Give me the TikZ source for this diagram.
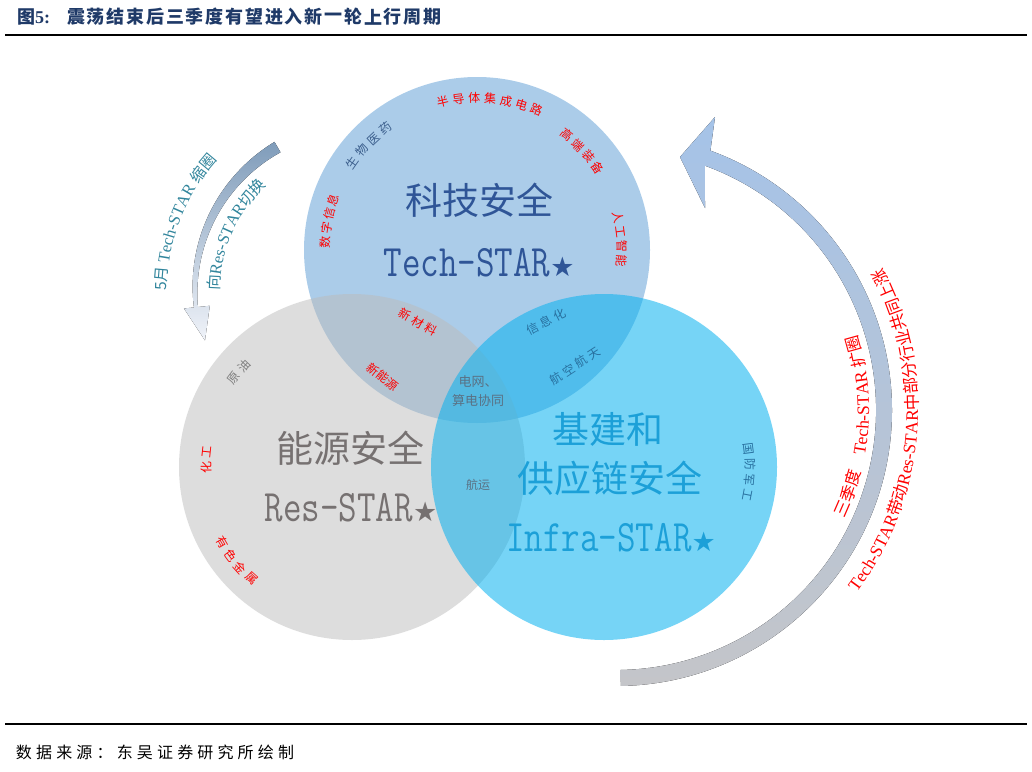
\documentclass[tikz,border=0pt]{standalone}
\usepackage{fontspec}
\usepackage{graphicx}
\usetikzlibrary{calc,decorations.text}
\newfontfamily\cjk{Noto Sans CJK SC}
\newfontfamily\cjkls{Noto Sans CJK SC}[LetterSpace=28]
\newfontfamily\cjksrc{Noto Sans CJK SC}[LetterSpace=26]
\newfontfamily\starf{DejaVu Sans}
\newfontfamily\serf{Liberation Serif}
\definecolor{titleblue}{HTML}{1F3A68}
\definecolor{techblue}{HTML}{2F5597}
\definecolor{resgray}{HTML}{767171}
\definecolor{infrablue}{HTML}{1CA0D8}
\definecolor{bluegray}{HTML}{3B5E8C}
\definecolor{darkteal}{HTML}{28709F}
\definecolor{gridgray}{HTML}{5A7184}
\definecolor{oilgray}{HTML}{7F7F7F}
\definecolor{arrowteal}{HTML}{31859C}
\definecolor{ctop}{HTML}{ABCCE9}
\definecolor{cleft}{HTML}{BBBBBB}
\definecolor{cright}{HTML}{06B1EF}
\definecolor{larrowtop}{HTML}{7F9CBA}
\definecolor{larrowbot}{HTML}{F0F3F9}
\definecolor{rtop}{HTML}{A5C3E8}
\definecolor{rmid}{HTML}{F2F4F8}
\definecolor{rbot}{HTML}{C4C5C9}
\newcommand\cjkA{\cjk\fontsize{15.5}{15.5}\selectfont}
\newcommand\serA{\serf\fontsize{16.5}{16.5}\selectfont}
\newcommand\cjkB{\cjk\fontsize{16.5}{16.5}\selectfont}
\newcommand\serB{\serf\fontsize{17.5}{17.5}\selectfont}
\newcommand\arclabel[7]{%
  \foreach \ch [count=\i from 0] in {#7}{%
    \pgfmathsetmacro\ang{#3+\i*(#4)}%
    \pgfmathsetmacro\rot{\ang+(#5)}%
    \node[#6, rotate=\rot] at ($(#1)+(\ang:#2)$) {\ch};}}
\tikzset{
  every node/.style={inner sep=0pt, outer sep=0pt},
  bigcjk/.style={font=\cjk\fontsize{37}{37}\selectfont},
  startxt/.style={font=\fontsize{36}{36}\selectfont},
  lbl/.style={font=\cjk\fontsize{12}{12}\selectfont},
  lbls/.style={font=\cjkls\fontsize{12}{12}\selectfont},
  titlech/.style={text=titleblue, font=\cjk\bfseries\fontsize{18}{18}\selectfont},
  rulestyle/.style={line width=2pt, black}
}
\begin{document}
\begin{tikzpicture}[x=1pt, y=1pt]
\path[use as bounding box] (0,0) rectangle (1032,-771);
% title and rules
\node[anchor=west, titlech] (fig) at (17,-17) {图\serf\bfseries 5:};
\foreach \c [count=\i from 0] in {震,荡,结,束,后,三,季,度,有,望,进,入,新,一,轮,上,行,周,期}{%
  \node[titlech] (title\i) at ({76+\i*19.8},-17) {\c};}
\coordinate (r1a) at (5,-34.5); \coordinate (r1b) at (1027,-34.5);
\coordinate (r2a) at (5,-723.5); \coordinate (r2b) at (1027,-723.5);
\draw[rulestyle] (r1a) -- (r1b);
\draw[rulestyle] (r2a) -- (r2b);
\node[anchor=west, font=\cjksrc\fontsize{16}{16}\selectfont] (src) at (16,-752) {数据来源：东吴证券研究所绘制};
% centres
\coordinate (T) at (477,-250);
\coordinate (L) at (352,-467);
\coordinate (R) at (604,-467);
\coordinate (LA) at (360,-290);
\coordinate (RA) at (616,-410);
% left arrow
\begin{scope}[shift={(LA)}]
\fill[top color=larrowtop, bottom color=larrowbot]
  plot[smooth, domain=120:186, samples=25, variable=\t] (\t:{165+(4+8*(186-\t)/66)/2})
  -- (186:177) -- (198:163) -- (186:151)
  -- plot[smooth, domain=186:120, samples=25, variable=\t] (\t:{165-(4+8*(186-\t)/66)/2}) -- cycle;
\end{scope}
% right arrow
\begin{scope}[shift={(RA)}]
\fill[top color=rtop, middle color=rmid, bottom color=rbot]
  (-89:276) arc[start angle=-89, end angle=70, radius=276]
  -- (99,293) -- (64,253) -- (89,202)
  -- (70:260) arc[start angle=70, end angle=-89, radius=260] -- cycle;
\end{scope}
% arrow texts
\path[decorate, decoration={text along path, text align=center, text color=arrowteal,
  text={|\cjkA|5月 |\serA|Tech-STAR |\cjkA|缩圈}}]
  ([shift={(192:193)}]LA) arc[start angle=192, end angle=126, radius=193];
\path[decorate, decoration={text along path, text align=center, text color=arrowteal,
  text={|\cjkA|向|\serA|Res-STAR|\cjkA|切换}}]
  ([shift={(194:140)}]LA) arc[start angle=194, end angle=118, radius=140];
\path[decorate, decoration={text along path, text align=center, text color=red,
  text={|\cjkB|三季度　|\serB|Tech-STAR |\cjkB|扩圈}}]
  ([shift={(-44:253)}]RA) arc[start angle=-44, end angle=36, radius=253];
\path[decorate, decoration={text along path, text align=center, text color=red,
  text={|\serB|Tech-STAR|\cjkB|带动|\serB|Res-STAR|\cjkB|中部分行业共同上涨}}]
  ([shift={(-58:302)}]RA) arc[start angle=-58, end angle=49, radius=302];
% circles
\fill[ctop] (T) circle[radius=173];
\fill[cleft, fill opacity=0.5] (L) circle[radius=173];
\fill[cright, fill opacity=0.55] (R) circle[radius=173];
% main labels
\node[bigcjk, text=techblue] (kj) at (479,-200) {科技安全};
\node[startxt, text=techblue] (ts) at (479,-263) {\scalebox{1}[1.25]{\ttfamily Tech-STAR}{\starf\fontsize{27}{27}\selectfont ★}};
\node[bigcjk, text=resgray] (ny) at (350,-448) {能源安全};
\node[startxt, text=resgray] (rs) at (351,-508) {\scalebox{1}[1.25]{\ttfamily Res-STAR}{\starf\fontsize{27}{27}\selectfont ★}};
\node[bigcjk, text=infrablue] (jj) at (608,-429) {基建和};
\node[bigcjk, text=infrablue] (gy) at (610,-478) {供应链安全};
\node[startxt, text=infrablue] (is) at (611,-538) {\scalebox{1}[1.25]{\ttfamily Infra-STAR}{\starf\fontsize{27}{27}\selectfont ★}};
% arc labels
\arclabel{T}{152}{103}{-6}{-90}{lbl, text=red}{半,导,体,集,成,电,路}
\arclabel{T}{152}{145}{-6}{-90}{lbl, text=bluegray}{生,物,医,药}
\arclabel{T}{146}{52}{-6}{-90}{lbl, text=red}{高,端,装,备}
\arclabel{T}{145}{13}{-5.7}{-90}{lbl, text=red}{人,工,智,能}
\arclabel{T}{152}{177}{-5.4}{-90}{lbl, text=red}{数,字,信,息}
\arclabel{L}{148}{143}{-6}{-90}{lbl, text=oilgray}{原,油}
\arclabel{L}{146}{180}{-6}{-90}{lbl, text=red}{化,工}
\arclabel{L}{150}{210}{6}{90}{lbl, text=red}{有,色,金,属}
\arclabel{R}{146}{7}{-6}{-90}{lbl, text=darkteal}{国,防,军,工}
% straight labels
\node[lbls, text=red, rotate=-29] (xcl) at (418,-322) {新材料};
\node[lbl, text=red, rotate=-38] (xny) at (383,-377) {新能源};
\node[lbls, text=darkteal, rotate=27] (xxh) at (546,-322) {信息化};
\node[lbls, text=darkteal, rotate=33] (hkht) at (575,-366) {航空航天};
\node[font=\cjk\fontsize{13}{19}\selectfont, text=gridgray, align=center] (dw) at (478,-391) {电网、\\算电协同};
\node[lbl, text=gridgray] (hy) at (478,-485) {航运};
\end{tikzpicture}
\end{document}
